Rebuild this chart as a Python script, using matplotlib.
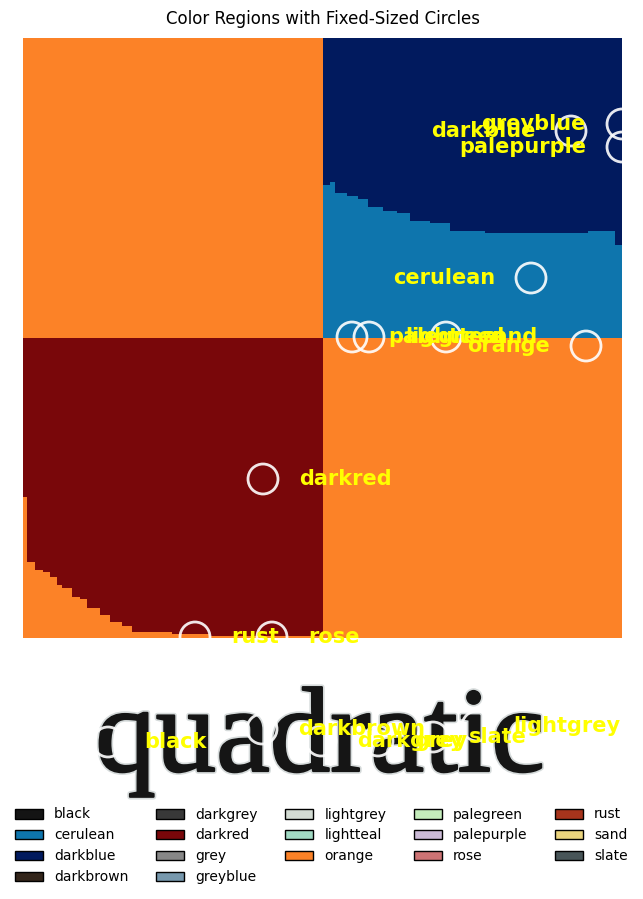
import numpy as np
import matplotlib
matplotlib.use('Agg')
import matplotlib.pyplot as plt
from matplotlib.patches import Circle, Patch
from matplotlib.colors import ListedColormap
import matplotlib.patheffects as pe

# ---------------------------------------------------------------
# colour names and the swatch colours shown in the legend
# ---------------------------------------------------------------
names = ['black', 'cerulean', 'darkblue', 'darkbrown', 'darkgrey', 'darkred',
         'grey', 'greyblue', 'lightgrey', 'lightteal', 'orange', 'palegreen',
         'palepurple', 'rose', 'rust', 'sand', 'slate']
colors = ['#141414', '#0e75ad', '#011a5e', '#33251a', '#383838', '#79070a',
          '#878787', '#7798ad', '#d3dbd3', '#a1d9c3', '#fc8227', '#c4ecbb',
          '#cbbad6', '#cd7374', '#a7341c', '#ebd47e', '#485558']
cmap_of = dict(zip(names, colors))

# ---------------------------------------------------------------
# region map (panel is 599 x 600 units)
# ---------------------------------------------------------------
region_names = ['orange', 'darkblue', 'cerulean', 'darkred']
# top-right quarter: darkblue above this step line, cerulean below
tr_edges = [300, 307, 312, 324, 335, 345, 360, 374, 387, 407, 427, 462, 565, 592, 599]
tr_level = [147, 144, 155, 158, 161, 169, 173, 175, 183, 185, 193, 195, 193, 207]
# bottom-left quarter: darkred above this step line, orange wedge below
bl_edges = [0, 4, 12, 20, 27, 34, 39, 49, 57, 64, 77, 87, 99, 109, 149, 187, 300]
bl_level = [459, 524, 532, 534, 539, 547, 550, 559, 561, 570, 577, 584, 588, 594, 596, 598]

# ---------------------------------------------------------------
# circles (centre) and where the label goes
# ---------------------------------------------------------------
circle_x = [85, 508, 548, 239, 298, 240, 355, 599, 454, 346, 563, 329, 599, 249, 172, 423, 410]
circle_y = [704, 240, 93, 691, 703, 441, 703, 86, 688, 299, 308, 299, 109, 599, 599, 299, 699]
label_side = ['r', 'l', 'l', 'r', 'r', 'r', 'r', 'l', 'r', 'r', 'l', 'r', 'l', 'r', 'r', 'r', 'r']

W, H = 599, 600
R = 15
OFF = 36

fig = plt.figure(figsize=(6.43, 8.99), dpi=100)
ax1 = fig.add_axes([23/643, 1-638/899, 599/643, 600/899])
ax2 = fig.add_axes([23/643, 1-800/899, 599/643, 160/899])

#build the image
xs = np.arange(W) + 0.5
ys = np.arange(H) + 0.5
X, Y = np.meshgrid(xs, ys)
grid = np.zeros((H, W), dtype=int)

i_tr = np.clip(np.searchsorted(tr_edges, xs, side='right') - 1, 0, len(tr_level) - 1)
lev_tr = np.array(tr_level)[i_tr][None, :]
m_tr = (X >= 300) & (Y < 300)
grid[m_tr & (Y < lev_tr)] = 1
grid[m_tr & (Y >= lev_tr)] = 2

i_bl = np.clip(np.searchsorted(bl_edges, xs, side='right') - 1, 0, len(bl_level) - 1)
lev_bl = np.array(bl_level)[i_bl][None, :]
m_bl = (X < 300) & (Y >= 300)
grid[m_bl & (Y < lev_bl)] = 3

cm = ListedColormap([cmap_of[n] for n in region_names])
ax1.imshow(grid, cmap=cm, vmin=-0.5, vmax=3.5, extent=(0, W, H, 0),
           interpolation='nearest', aspect='auto')
ax1.set_xlim(0, W)
ax1.set_ylim(H, 0)
ax1.axis('off')
ax1.set_title('Color Regions with Fixed-Sized Circles', fontsize=12, pad=10)

ax2.set_xlim(0, W)
ax2.set_ylim(762, 602)
ax2.axis('off')

#the big word
ax2.text(297, 733, 'quadratic', fontsize=87, family='Liberation Serif',
         color='#151515', ha='center', va='baseline', zorder=1,
         path_effects=[pe.Stroke(linewidth=4, foreground='#d6dbdb'),
                       pe.Stroke(linewidth=1.6, foreground='#151515'),
                       pe.Normal()])

for n, cx, cy, side in zip(names, circle_x, circle_y, label_side):
    ax = ax1 if cy <= H else ax2
    ax.add_patch(Circle((cx, cy), R, fill=False, ec='white', lw=2,
                        alpha=0.9, zorder=3))
    if side == 'r':
        ax.text(cx + OFF, cy, n, color='yellow', fontsize=15, fontweight='bold',
                ha='left', va='center', zorder=4, clip_on=False)
    else:
        ax.text(cx - OFF, cy, n, color='yellow', fontsize=15, fontweight='bold',
                ha='right', va='center', zorder=4, clip_on=False)

handles = [Patch(facecolor=c, edgecolor='black', label=n) for n, c in zip(names, colors)]
fig.legend(handles=handles, loc='upper center', bbox_to_anchor=(0.5, 1 - 795/899),
           ncol=5, frameon=False, fontsize=10)

fig.savefig('out.png', dpi=100)
